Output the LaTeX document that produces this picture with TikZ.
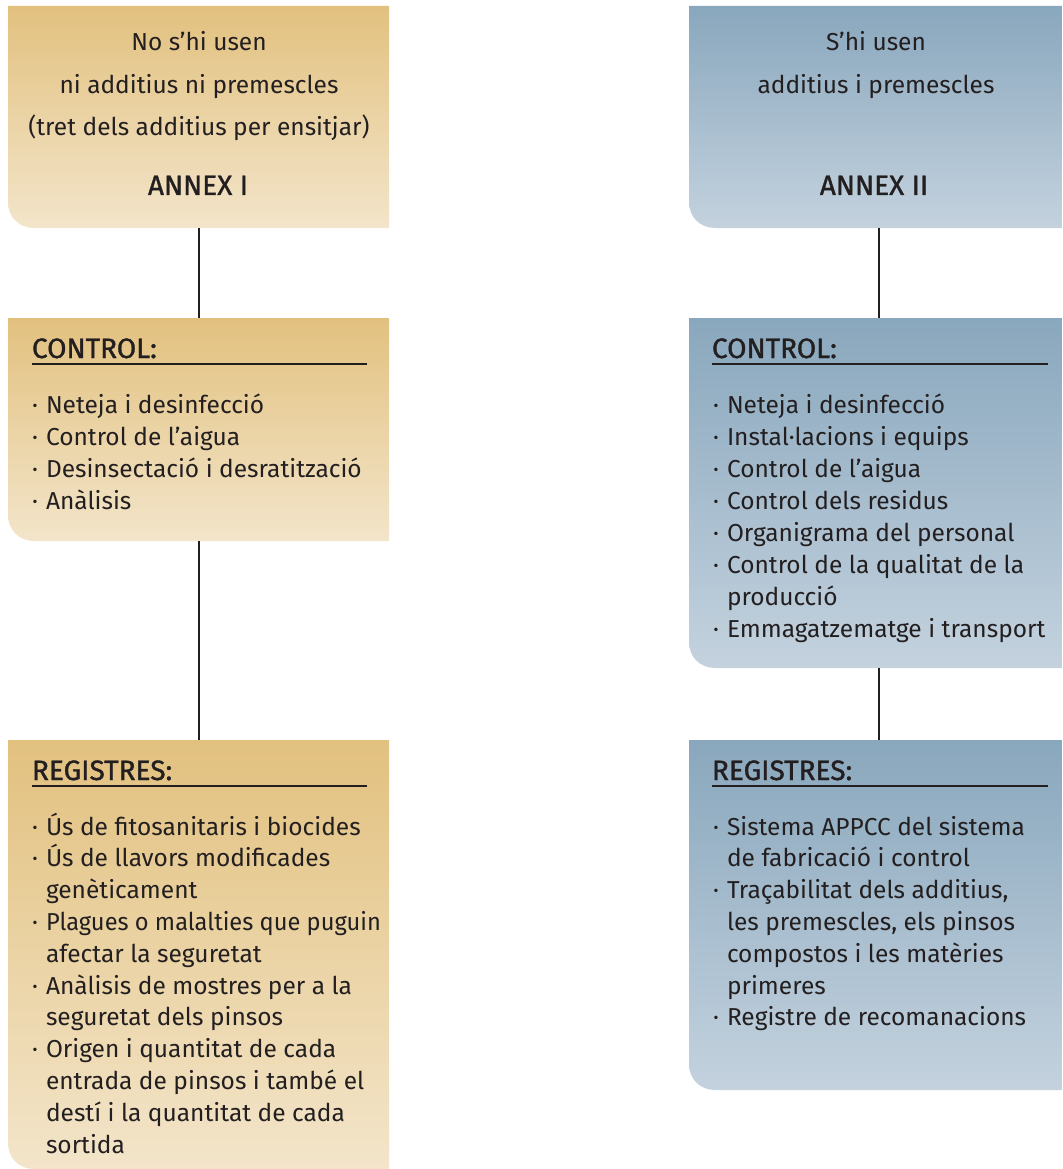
\documentclass[tikz,border=0pt]{standalone}
\usepackage{fontspec}
\setmainfont{Fira Sans}
\newfontfamily\headfont{Fira Sans}[FakeBold=1.2]
\definecolor{ink}{HTML}{231F20}
\definecolor{goldtop}{HTML}{E2C17F}
\definecolor{goldbot}{HTML}{F3E5CA}
\definecolor{bluetop}{HTML}{89A7BD}
\definecolor{bluebot}{HTML}{C4D2DE}
\tikzset{
  boxnode/.style={draw=none, inner sep=0pt, outer sep=0pt},
  goldgrad/.style={top color=goldtop, bottom color=goldbot, draw=none},
  bluegrad/.style={top color=bluetop, bottom color=bluebot, draw=none},
  itemtext/.style={anchor=base west, inner sep=0pt, outer sep=0pt, text=ink, font=\fontsize{24.5}{30}\selectfont},
  centertext/.style={anchor=base, inner sep=0pt, outer sep=0pt, text=ink, font=\fontsize{24.5}{30}\selectfont},
  headtext/.style={anchor=base west, inner sep=0pt, outer sep=0pt, text=ink, font=\headfont\fontsize{28}{32}\selectfont},
  annex/.style={anchor=base, inner sep=0pt, outer sep=0pt, text=ink, font=\headfont\fontsize{28}{32}\selectfont},
  rule/.style={draw=ink, line width=1.5pt},
  link/.style={draw=ink, line width=1.5pt},
}
\newcommand{\roundbox}[2]{%
  \shade[#2] (#1.north west) -- (#1.north east) -- (#1.south east)
    -- ([xshift=26pt]#1.south west)
    .. controls ([xshift=11pt]#1.south west) and ([yshift=11pt]#1.south west) ..
    ([yshift=26pt]#1.south west) -- cycle;}
\begin{document}
\begin{tikzpicture}[x=1pt,y=-1pt]
\useasboundingbox (0,0) rectangle (1062,1169);
% box placeholders
\node[boxnode, minimum width=381pt, minimum height=222pt] (L1) at (198.5,117) {};
\node[boxnode, minimum width=381pt, minimum height=223pt] (L2) at (198.5,429.5) {};
\node[boxnode, minimum width=381pt, minimum height=429pt] (L3) at (198.5,954.5) {};
\node[boxnode, minimum width=373pt, minimum height=222pt] (R1) at (875.5,117) {};
\node[boxnode, minimum width=373pt, minimum height=350pt] (R2) at (875.5,493) {};
\node[boxnode, minimum width=373pt, minimum height=350pt] (R3) at (875.5,915) {};
\roundbox{L1}{goldgrad}
\roundbox{L2}{goldgrad}
\roundbox{L3}{goldgrad}
\roundbox{R1}{bluegrad}
\roundbox{R2}{bluegrad}
\roundbox{R3}{bluegrad}
% connectors
\draw[link] ([xshift=0.5pt]L1.south) -- ([xshift=0.5pt]L2.north);
\draw[link] ([xshift=0.5pt]L2.south) -- ([xshift=0.5pt]L3.north);
\draw[link] ([xshift=3.5pt]R1.south) -- ([xshift=3.5pt]R2.north);
\draw[link] ([xshift=3.5pt]R2.south) -- ([xshift=3.5pt]R3.north);
% top boxes
\node[centertext] (t1a) at (199,51) {No s’hi usen};
\node[centertext] (t1b) at (199,93.5) {ni additius ni premescles};
\node[centertext] (t1c) at (199,136) {(tret dels additius per ensitjar)};
\node[annex] (t1d) at (198,195) {ANNEX I};
\node[centertext] (t2a) at (876,51) {S’hi usen};
\node[centertext] (t2b) at (876,93.5) {additius i premescles};
\node[annex] (t2d) at (874,195) {ANNEX II};
% headings
\node[headtext] (hL2) at (32,358) {CONTROL:};
\draw[rule] (32,364) -- (367,364);
\node[headtext] (hR2) at (712,358) {CONTROL:};
\draw[rule] (712,364) -- (1048,364);
\node[headtext] (hL3) at (32,780) {REGISTRES:};
\draw[rule] (32,786) -- (367,786);
\node[headtext] (hR3) at (712,780) {REGISTRES:};
\draw[rule] (712,786) -- (1048,786);
% left control list
\foreach \b/\t [count=\i] in {1/Neteja i desinfecció, 1/Control de l’aigua, 1/Desinsectació i desratització, 1/Anàlisis}{
  \ifnum\b=1 \node[itemtext] (lcb\i) at (32,{413+32*(\i-1)}) {·};\fi
  \node[itemtext] (lc\i) at (46,{413+32*(\i-1)}) {\t};
}
% right control list
\foreach \b/\t [count=\i] in {1/Neteja i desinfecció, 1/Instal·lacions i equips, 1/Control de l’aigua, 1/Control dels residus, 1/Organigrama del personal, 1/Control de la qualitat de la, 0/producció, 1/Emmagatzematge i transport}{
  \ifnum\b=1 \node[itemtext] (rcb\i) at (713,{413+32*(\i-1)}) {·};\fi
  \node[itemtext] (rc\i) at (727,{413+32*(\i-1)}) {\t};
}
% left registres list
\foreach \b/\t/\s [count=\i] in {1/Ús de fitosanitaris i biocides/1, 1/Ús de llavors modificades/1, 0/genèticament/1, 1/Plagues o malalties que puguin/0.965, 0/afectar la seguretat/1, 1/Anàlisis de mostres per a la/1, 0/seguretat dels pinsos/1, 1/Origen i quantitat de cada/1, 0/entrada de pinsos i també el/1, 0/destí i la quantitat de cada/1, 0/sortida/1}{
  \ifnum\b=1 \node[itemtext] (lrb\i) at (32,{835+31.8*(\i-1)}) {·};\fi
  \node[itemtext, xscale=\s] (lr\i) at (46,{835+31.8*(\i-1)}) {\t};
}
% right registres list
\foreach \b/\t [count=\i] in {1/Sistema APPCC del sistema, 0/de fabricació i control, 1/{Traçabilitat dels additius,}, 0/{les premescles, els pinsos}, 0/compostos i les matèries, 0/primeres, 1/Registre de recomanacions}{
  \ifnum\b=1 \node[itemtext] (rrb\i) at (713,{835+31.8*(\i-1)}) {·};\fi
  \node[itemtext] (rr\i) at (727,{835+31.8*(\i-1)}) {\t};
}
\end{tikzpicture}
\end{document}
